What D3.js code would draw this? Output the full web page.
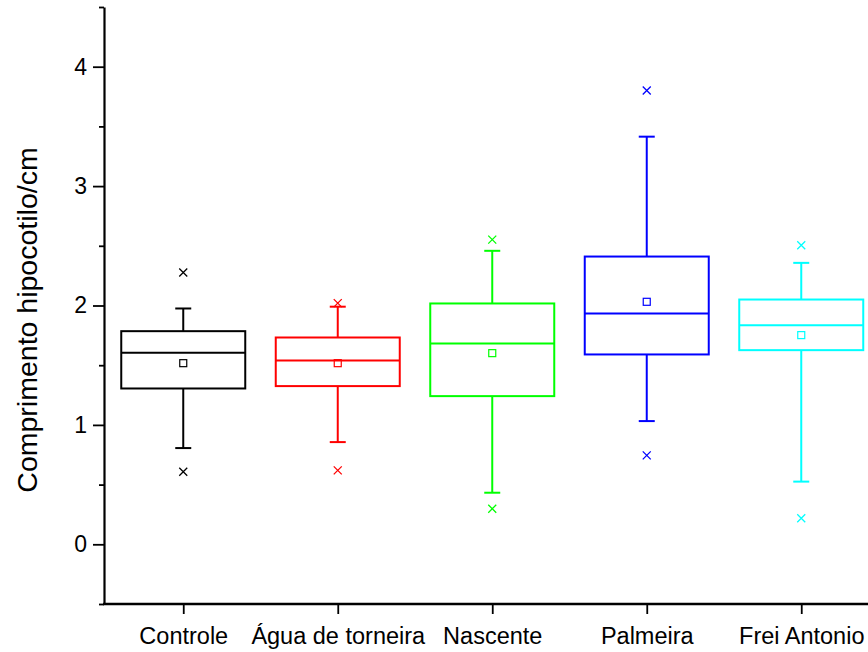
<!DOCTYPE html>
<html>
<head>
<meta charset="utf-8">
<script src="https://cdn.jsdelivr.net/npm/d3@7"></script>
<style>
  body { margin: 0; background: #fff; }
  svg { font-family: "Liberation Sans", Arial, sans-serif; }
</style>
</head>
<body>
<div id="chart"></div>
<script>
// Data
const categories = ["Controle", "Água de torneira", "Nascente", "Palmeira", "Frei Antonio"];
const colors = ["#000000", "#ff0000", "#00ff00", "#0000ff", "#00ffff"];
const q1 = [1.305, 1.325, 1.241, 1.59, 1.626];
const median = [1.604, 1.54, 1.682, 1.933, 1.835];
const q3 = [1.785, 1.732, 2.017, 2.41, 2.05];
const whiskerLow = [0.806, 0.856, 0.432, 1.032, 0.525];
const whiskerHigh = [1.975, 1.99, 2.458, 3.414, 2.357];
const mean = [1.517, 1.517, 1.601, 2.031, 1.752];
const pctLow = [0.608, 0.619, 0.298, 0.745, 0.218];
const pctHigh = [2.276, 2.02, 2.552, 3.80, 2.505];
const yTicks = [0, 1, 2, 3, 4];
const yMinorTicks = [-0.5, 0.5, 1.5, 2.5, 3.5, 4.5];

const width = 868;
const height = 652;

const svg = d3.select("#chart")
    .append("svg")
    .attr("width", width)
    .attr("height", height);

// Scales
const x = d3.scaleLinear().domain([0.5, 5.5]).range([106, 878.5]);
const y = d3.scaleLinear().domain([-0.5, 4.5]).range([604, 7]);

const boxW = 124;
const capW = 16;

const data = categories.map((c, i) => ({
    i: i + 1, name: c, color: colors[i],
    q1: q1[i], med: median[i], q3: q3[i],
    lo: whiskerLow[i], hi: whiskerHigh[i],
    mean: mean[i], pLo: pctLow[i], pHi: pctHigh[i]
}));

const g = svg.append("g")
    .selectAll("g")
    .data(data)
    .enter()
    .append("g")
    .attr("stroke", d => d.color)
    .attr("stroke-width", 2)
    .attr("fill", "none");

// whiskers
g.append("line")
    .attr("x1", d => x(d.i)).attr("x2", d => x(d.i))
    .attr("y1", d => y(d.q3)).attr("y2", d => y(d.hi));
g.append("line")
    .attr("x1", d => x(d.i)).attr("x2", d => x(d.i))
    .attr("y1", d => y(d.q1)).attr("y2", d => y(d.lo));
g.append("line")
    .attr("x1", d => x(d.i) - capW / 2).attr("x2", d => x(d.i) + capW / 2)
    .attr("y1", d => y(d.hi)).attr("y2", d => y(d.hi));
g.append("line")
    .attr("x1", d => x(d.i) - capW / 2).attr("x2", d => x(d.i) + capW / 2)
    .attr("y1", d => y(d.lo)).attr("y2", d => y(d.lo));

// box
g.append("rect")
    .attr("x", d => x(d.i) - boxW / 2)
    .attr("y", d => y(d.q3))
    .attr("width", boxW)
    .attr("height", d => y(d.q1) - y(d.q3));
g.append("line")
    .attr("x1", d => x(d.i) - boxW / 2).attr("x2", d => x(d.i) + boxW / 2)
    .attr("y1", d => y(d.med)).attr("y2", d => y(d.med));

// mean square
g.append("rect")
    .attr("stroke-width", 1.2)
    .attr("x", d => x(d.i) - 3.5)
    .attr("y", d => y(d.mean) - 3.5)
    .attr("width", 7)
    .attr("height", 7);

// percentile crosses
const cross = (sel, key) => {
    sel.append("path")
        .attr("stroke-width", 1.3)
        .attr("d", d => {
            const cx = x(d.i), cy = y(d[key]), s = 4;
            return `M${cx - s},${cy - s}L${cx + s},${cy + s}M${cx - s},${cy + s}L${cx + s},${cy - s}`;
        });
};
cross(g, "pLo");
cross(g, "pHi");

// Y axis
svg.append("g")
    .attr("transform", "translate(104,0)")
    .call(d3.axisLeft(y).tickValues(yMinorTicks).tickSize(5).tickFormat(""))
    .call(a => a.select(".domain").remove())
    .selectAll("line").attr("stroke-width", 1.8);

const yAxis = svg.append("g")
    .attr("transform", "translate(104,0)")
    .call(d3.axisLeft(y).tickValues(yTicks).tickSize(11).tickSizeOuter(0).tickPadding(6).tickFormat(d3.format("d")));
yAxis.select(".domain").attr("stroke-width", 2.2);
yAxis.selectAll("line").attr("stroke-width", 1.8);
yAxis.selectAll("text").attr("font-size", 23).attr("font-family", "Liberation Sans, Arial, sans-serif");

// X axis
const xAxis = svg.append("g")
    .attr("transform", "translate(0,604)")
    .call(d3.axisBottom(x).tickValues([1, 2, 3, 4, 5]).tickSize(10).tickSizeOuter(0).tickPadding(13)
        .tickFormat(d => categories[d - 1]));
xAxis.select(".domain").attr("d", "M103,0H868").attr("stroke-width", 2.6);
xAxis.selectAll("line").attr("stroke-width", 1.8);
xAxis.selectAll("text").attr("font-size", 23.5).attr("font-family", "Liberation Sans, Arial, sans-serif");

// Y label
svg.append("text")
    .attr("transform", "translate(37,320) rotate(-90)")
    .attr("text-anchor", "middle")
    .attr("font-size", 28.5)
    .text("Comprimento hipocotilo/cm");
</script>
</body>
</html>
